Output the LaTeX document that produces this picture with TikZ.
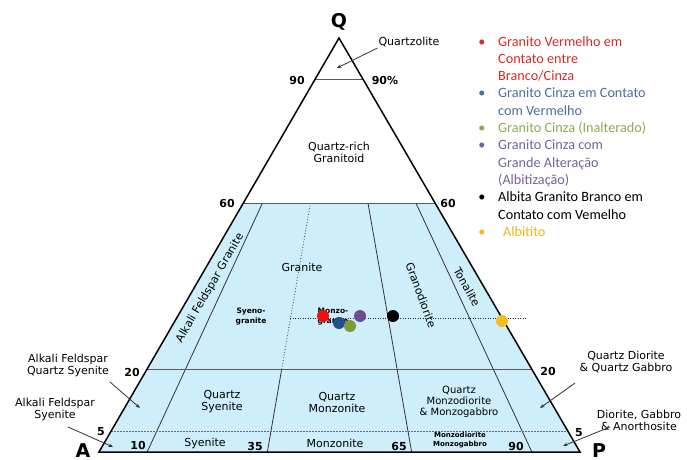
\documentclass[tikz,border=0pt]{standalone}
\usepackage{fontspec}
\setmainfont{DejaVu Sans}
\newfontfamily\legfont{Carlito}
\usetikzlibrary{arrows.meta,calc}

\definecolor{fieldblue}{HTML}{CFEEFC}
\definecolor{legred}{HTML}{D42A2A}
\definecolor{legblue}{HTML}{4A6E9E}
\definecolor{leggreen}{HTML}{8DAA4E}
\definecolor{legpurple}{HTML}{76609A}
\definecolor{legyellow}{HTML}{F2B51C}
\definecolor{dotred}{HTML}{F01010}
\definecolor{dotblue}{HTML}{22508C}
\definecolor{dotgreen}{HTML}{7C9A38}
\definecolor{dotpurple}{HTML}{6E4A8E}
\definecolor{dotyellow}{HTML}{F7BC1E}

\tikzset{
  edge/.style={line width=1.5pt, black},
  bound/.style={line width=0.8pt, black!80},
  level/.style={line width=1pt, black!65},
  fiveline/.style={line width=0.9pt, black!60, dash pattern=on 1.5pt off 1.5pt},
  pointer/.style={-{Stealth[length=4.5pt,width=3.5pt]}, line width=0.8pt, black!80},
  lbl/.style={font=\fontsize{11}{12}\selectfont, align=center, inner sep=1pt},
  lblsmall/.style={font=\fontsize{10}{11}\selectfont, align=center, inner sep=1pt},
  tiny/.style={font=\fontsize{7.5}{10}\selectfont\bfseries, align=center, inner sep=0pt},
  num/.style={font=\fontsize{11}{12}\selectfont\bfseries, inner sep=0pt},
  vertex/.style={font=\fontsize{19}{19}\selectfont\bfseries, anchor=base, inner sep=0pt},
  legend/.style={font=\legfont\fontsize{14.2}{17.3}\selectfont, align=left, anchor=base west, inner sep=0pt},
  bullet/.style={font=\legfont\fontsize{14.2}{17.3}\selectfont, anchor=base, inner sep=0pt},
  sample/.style={circle, inner sep=0pt, minimum size=12pt},
}

\begin{document}
\begin{tikzpicture}[x=1pt,y=1pt]
  \useasboundingbox (0,0) rectangle (687,459);

  % Corners of the QAP triangle
  \coordinate (A) at (99,7);
  \coordinate (P) at (580,7);
  \coordinate (Q) at (339,421);

  % Q levels on both edges
  \foreach \q/\n in {0.1/90, 0.4/60, 0.8/20, 0.95/5} {
    \coordinate (a\n) at ($(Q)!\q!(A)$);
    \coordinate (p\n) at ($(Q)!\q!(P)$);
  }

  % P/(A+P) ratios: base point, point at 20 and point at 60
  \foreach \r/\n in {0.10/10, 0.35/35, 0.65/65, 0.90/90} {
    \coordinate (b\n) at ($(A)!\r!(P)$);
    \coordinate (m\n) at ($(Q)!0.8!(b\n)$);
    \coordinate (t\n) at ($(Q)!0.4!(b\n)$);
  }

  % Blue field below 60
  \fill[fieldblue] (a60) -- (p60) -- (P) -- (A) -- cycle;

  % Field boundaries
  \draw[bound] (b10) -- (t10);
  \draw[bound] (b35) -- (m35);
  \draw[bound, dotted] (m35) -- (t35);
  \draw[bound] (b65) -- (t65);
  \draw[bound] (b90) -- (t90);
  \draw[level] (a90) -- (p90);
  \draw[level] (a60) -- (p60);
  \draw[level] (a20) -- (p20);
  \draw[fiveline] (a5) -- (p5);

  % Outline
  \draw[edge] (A) -- (Q) -- (P) -- cycle;

  % Corner letters
  \node[vertex] (lq) at (339,431) {Q};
  \node[vertex] (la) at (83,2) {A};
  \node[vertex] (lp) at (599,2) {P};

  % Numbers along the edges
  \node[num] (n90l) at (297,379) {90};
  \node[num] (n90r) at (385,379) {90\%};
  \node[num] (n60l) at (227,256) {60};
  \node[num] (n60r) at (448,256) {60};
  \node[num] (n20l) at (132,87) {20};
  \node[num] (n20r) at (548,88) {20};
  \node[num] (n5l) at (101,27) {5};
  \node[num] (n5r) at (579,26) {5};
  \node[num] (n10b) at (138,14) {10};
  \node[num] (n35b) at (255,13) {35};
  \node[num] (n65b) at (399,13) {65};
  \node[num] (n90b) at (516,13) {90};

  % Field names
  \node[lbl] (qzl) at (409,417) {Quartzolite};
  \coordinate (qzl-tip) at (337,391);
  \draw[pointer] (qzl.south west) -- (qzl-tip);
  \node[lbl] (qrich) at (339,307) {Quartz-rich\\Granitoid};
  \node[lbl] (granite) at (302,192) {Granite};
  \node[lbl, rotate=60] (afgranite) at (210,171) {Alkali Feldspar Granite};
  \node[tiny] (syeno) at (251,142) {Syeno-\\granite};
  \node[tiny] (monzo) at (333,142) {Monzo-\\granite};
  \node[lbl, rotate=-70] (grano) at (421,164) {Granodiorite};
  \node[lbl, rotate=-61] (tonal) at (467,172) {Tonalite};

  \node[lbl] (afqs) at (68,94) {Alkali Feldspar\\Quartz Syenite};
  \coordinate (afqs-tip) at (140,51);
  \draw[pointer] (110,77) -- (afqs-tip);
  \node[lbl] (afs) at (55,50) {Alkali Feldspar\\Syenite};
  \coordinate (afs-tip) at (113,12);
  \draw[pointer] (68,32) -- (afs-tip);

  \node[lbl] (qsye) at (222,57) {Quartz\\Syenite};
  \node[lbl] (qmon) at (337,57) {Quartz\\Monzonite};
  \node[lblsmall] (qmdi) at (459,57) {Quartz\\Monzodiorite\\\& Monzogabbro};
  \node[lbl] (sye) at (205,16) {Syenite};
  \node[lbl] (mon) at (335,16) {Monzonite};
  \node[tiny, font=\fontsize{7}{9.5}\selectfont\bfseries] (mdi) at (460,19) {Monzodiorite\\Monzogabbro};

  \node[lbl] (qdio) at (626,97) {Quartz Diorite\\\& Quartz Gabbro};
  \coordinate (qdio-tip) at (540,51);
  \draw[pointer] (575,76) -- (qdio-tip);
  \node[lbl] (dio) at (639,39) {Diorite, Gabbro\\\& Anorthosite};
  \coordinate (dio-tip) at (563,13);
  \draw[pointer] (610,32) -- (dio-tip);

  % Samples
  \draw[black!85, line width=0.5pt, dotted] (290,141) -- (527,141);
  \node[sample, fill=dotred] (s1) at (323,143) {};
  \node[sample, fill=dotblue] (s2) at (339,136) {};
  \node[sample, fill=dotgreen] (s3) at (350,133) {};
  \node[sample, fill=dotpurple] (s4) at (360,143) {};
  \node[sample, fill=black] (s5) at (393,143) {};
  \node[sample, fill=dotyellow] (s6) at (502,138) {};

  % Legend (multi-line entries sit on the baseline of their last line)
  \node[bullet, text=legred] (b1) at (482,413) {\textbullet};
  \node[legend, text=legred] (l1) at (498,378.4) {Granito Vermelho em\\Contato entre\\Branco/Cinza};
  \node[bullet, text=legblue] (b2) at (482,361.1) {\textbullet};
  \node[legend, text=legblue] (l2) at (498,343.8) {Granito Cinza em Contato\\com Vermelho};
  \node[bullet, text=leggreen] (b3) at (482,326.5) {\textbullet};
  \node[legend, text=leggreen] (l3) at (498,326.5) {Granito Cinza (Inalterado)};
  \node[bullet, text=legpurple] (b4) at (482,309.2) {\textbullet};
  \node[legend, text=legpurple] (l4) at (498,274.6) {Granito Cinza com\\Grande Alteração\\(Albitização)};
  \node[bullet, text=black] (b5) at (482,257.3) {\textbullet};
  \node[legend, text=black] (l5) at (498,240) {Albita Granito Branco em\\Contato com Vemelho};
  \node[bullet, text=legyellow] (b6) at (482,222.7) {\textbullet};
  \node[legend, text=legyellow] (l6) at (503,222.7) {Albitito};

\end{tikzpicture}
\end{document}
